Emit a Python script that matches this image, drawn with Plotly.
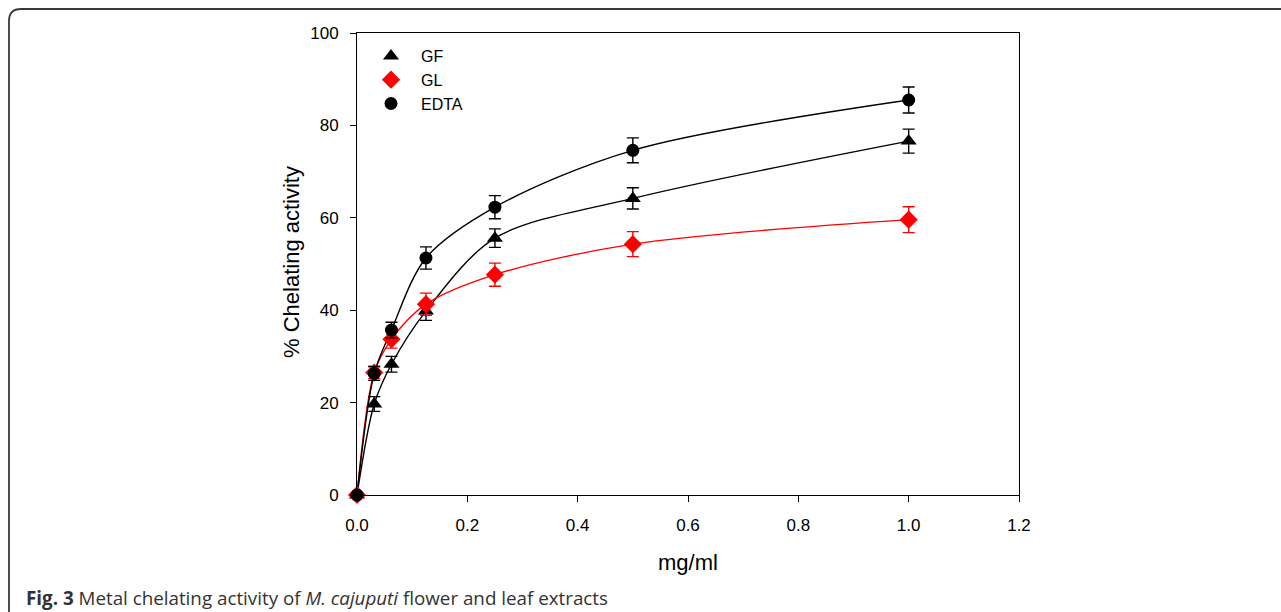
import plotly.graph_objects as go

# Concentration (mg/ml) and % chelating activity with standard deviations
conc = [0.0, 0.03125, 0.0625, 0.125, 0.25, 0.5, 1.0]

gf = [0.0, 19.7, 28.3, 39.8, 55.6, 64.2, 76.6]
gf_err = [0.0, 1.6, 1.7, 2.0, 2.0, 2.3, 2.6]

gl = [0.0, 26.5, 33.7, 41.3, 47.7, 54.3, 59.6]
gl_err = [0.0, 1.3, 1.9, 2.4, 2.5, 2.7, 2.8]

edta = [0.0, 26.3, 35.7, 51.3, 62.3, 74.6, 85.5]
edta_err = [0.0, 1.5, 1.7, 2.4, 2.5, 2.7, 2.8]

x_ticks = [0.0, 0.2, 0.4, 0.6, 0.8, 1.0, 1.2]
y_ticks = [0, 20, 40, 60, 80, 100]

W, H = 1281, 612
L, R, T, B = 357, 1019, 33, 495  # plot area in pixels


def px(xp):
    return (xp - L) / (R - L)


def py(yp):
    return (B - yp) / (B - T)


FONT = "Liberation Sans, Arial, sans-serif"

fig = go.Figure()

series = [
    ("GF", gf, gf_err, "black", "triangle-up", 14),
    ("GL", gl, gl_err, "red", "diamond", 14),
    ("EDTA", edta, edta_err, "black", "circle", 13),
]

# Smooth fitted curves
for name, y, err, col, sym, size in series:
    fig.add_trace(go.Scatter(
        x=conc, y=y, mode="lines",
        line=dict(color=col, width=1.4, shape="spline", smoothing=0.9),
        showlegend=False, hoverinfo="skip",
    ))

# Points with error bars
for name, y, err, col, sym, size in series:
    fig.add_trace(go.Scatter(
        x=conc, y=y, mode="markers", name=name, cliponaxis=False,
        marker=dict(symbol=sym, size=size, color=col, line=dict(width=0)),
        error_y=dict(type="data", array=err, visible=True,
                     color=col, thickness=1.4, width=6),
    ))

axis_common = dict(
    showgrid=False, zeroline=False, showline=True, linecolor="black",
    linewidth=1, mirror=True, ticks="outside", ticklen=6, tickwidth=1,
    tickcolor="black", tickfont=dict(family=FONT, size=17, color="black"),
)

fig.update_xaxes(range=[0, 1.2], tickvals=x_ticks,
                 ticktext=[f"{v:.1f}" for v in x_ticks],
                 ticklabelstandoff=9, **axis_common)
fig.update_yaxes(range=[0, 100], tickvals=y_ticks,
                 ticktext=[str(v) for v in y_ticks],
                 ticklabelstandoff=8, **axis_common)

# Rounded figure frame
r = 12
x0, y0 = 9, 9
path = (f"M {px(x0)} {py(H + 20)} L {px(x0)} {py(y0 + r)} "
        f"Q {px(x0)} {py(y0)} {px(x0 + r)} {py(y0)} L {px(W + 20)} {py(y0)}")
fig.add_shape(type="path", path=path, xref="paper", yref="paper",
              line=dict(color="#3a3a3a", width=1.8), layer="below")

fig.update_layout(
    width=W, height=H,
    margin=dict(l=L, r=W - R, t=T, b=H - B, autoexpand=False),
    paper_bgcolor="white", plot_bgcolor="white",
    showlegend=True,
    legend=dict(x=px(361), y=py(39), xanchor="left", yanchor="top",
                bgcolor="rgba(0,0,0,0)", tracegroupgap=0,
                font=dict(family=FONT, size=16, color="black"),
                itemwidth=50),
    annotations=[
        dict(text="% Chelating activity", x=px(291), y=py(262),
             xref="paper", yref="paper", textangle=-90, showarrow=False,
             xanchor="center", yanchor="middle",
             font=dict(family=FONT, size=22, color="black")),
        dict(text="mg/ml", x=px(688), y=py(562), xref="paper", yref="paper",
             showarrow=False, xanchor="center", yanchor="middle",
             font=dict(family=FONT, size=22, color="black")),
        dict(text="<b>Fig. 3</b> Metal chelating activity of <i>M. cajuputi</i> "
                  "flower and leaf extracts",
             x=px(24), y=py(598), xref="paper", yref="paper",
             showarrow=False, xanchor="left", yanchor="middle",
             font=dict(family="Open Sans, sans-serif", size=18.8, color="#333333")),
    ],
)

fig.write_html("out.html")
